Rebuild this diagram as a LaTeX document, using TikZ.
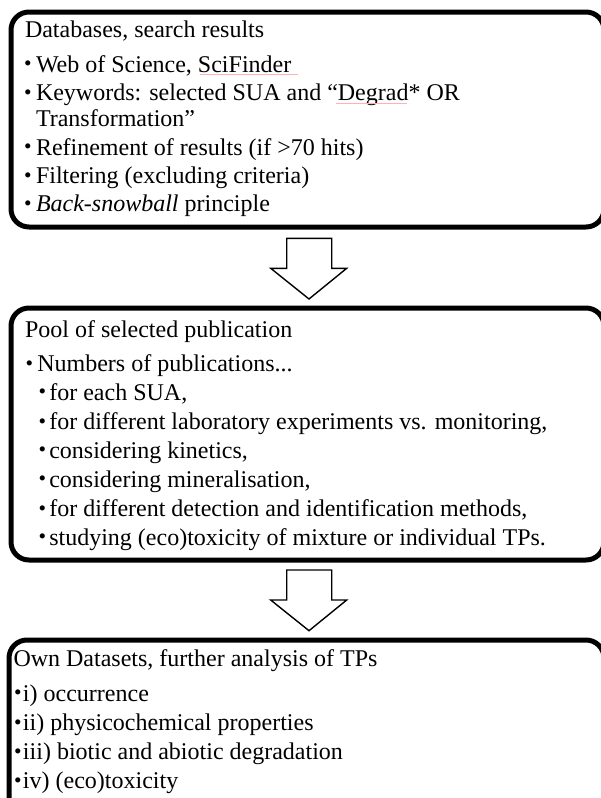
\documentclass[tikz,border=0pt]{standalone}
\usepackage{fontspec}
\setmainfont{Liberation Serif}
\begin{document}
\begin{tikzpicture}[x=1pt,y=-1pt,
  frame/.style={draw=black,line width=5pt,rounded corners=18pt},
  blockarrow/.style={draw=black,line width=1.4pt,fill=white,line join=miter},
  txt/.style={anchor=base west,inner sep=0pt,outer sep=0pt,font=\fontsize{24}{28}\selectfont},
  bul/.style={anchor=base,inner sep=0pt,outer sep=0pt,yshift=1.2pt,font=\fontsize{21.5}{24}\selectfont},
  spell/.style={draw=red!30,line width=0.6pt}]
\useasboundingbox (0,0) rectangle (601,798);
\clip (0,0) rectangle (601,798);
% boxes
\draw[frame] (11,12) rectangle (604,227);
\draw[frame] (11,308) rectangle (604,560);
\draw[frame] (9,640) rectangle (604,815);
% arrows
\draw[blockarrow] (286.7,238.3) -- (331.7,238.3) -- (331.7,268.3) -- (346.7,268.3) -- (309,299) -- (270.7,268.3) -- (286.7,268.3) -- cycle;
\draw[blockarrow] (286.7,570) -- (331.7,570) -- (331.7,600) -- (346.7,600) -- (309,630.7) -- (270.7,600) -- (286.7,600) -- cycle;
% box 1
\node[txt] (t1) at (25,37.5) {Databases, search results};
\node[bul] (b11) at (28,72) {•};
\node[txt] (a11) at (36,72) {Web of Science, SciFinder};
\node[bul] (b12) at (28,100.5) {•};
\node[txt] (a12) at (36,100.5) {Keywords: selected SUA and “Degrad* OR};
\node[txt] (a12b) at (36,126) {Transformation”};
\node[bul] (b13) at (28,155) {•};
\node[txt] (a13) at (36,155) {Refinement of results (if >70 hits)};
\node[bul] (b14) at (28,183.3) {•};
\node[txt] (a14) at (36,183.3) {Filtering (excluding criteria)};
\node[bul] (b15) at (28,211.5) {•};
\node[txt] (a15) at (36,211.5) {\textit{Back-snowball} principle};
\draw[spell] (200,74) -- (298,74);
\draw[spell] (336,103) -- (407,103);
% box 2
\node[txt] (t2) at (25,337.7) {Pool of selected publication};
\node[bul] (b21) at (29.5,371.7) {•};
\node[txt] (a21) at (37.3,371.7) {Numbers of publications...};
\node[bul] (b22) at (42.5,400) {•};
\node[txt] (a22) at (49.3,400) {for each SUA,};
\node[bul] (b23) at (42.5,429.3) {•};
\node[txt] (a23) at (49.3,429.3) {for different laboratory experiments vs. monitoring,};
\node[bul] (b24) at (42.5,458) {•};
\node[txt] (a24) at (49.3,458) {considering kinetics,};
\node[bul] (b25) at (42.5,487) {•};
\node[txt] (a25) at (49.3,487) {considering mineralisation,};
\node[bul] (b26) at (42.5,516.5) {•};
\node[txt] (a26) at (49.3,516.5) {for different detection and identification methods,};
\node[bul] (b27) at (42.5,545) {•};
\node[txt] (a27) at (49.3,545) {studying (eco)toxicity of mixture or individual TPs.};
% box 3
\node[txt] (t3) at (13.5,666) {Own Datasets, further analysis of TPs};
\node[bul] (b31) at (17.8,701) {•};
\node[txt] (a31) at (23,701) {i) occurrence};
\node[bul] (b32) at (17.8,730.5) {•};
\node[txt] (a32) at (23,730.5) {ii) physicochemical properties};
\node[bul] (b33) at (17.8,759.5) {•};
\node[txt] (a33) at (23,759.5) {iii) biotic and abiotic degradation};
\node[bul] (b34) at (17.8,788.5) {•};
\node[txt] (a34) at (23,788.5) {iv) (eco)toxicity};
\end{tikzpicture}
\end{document}
